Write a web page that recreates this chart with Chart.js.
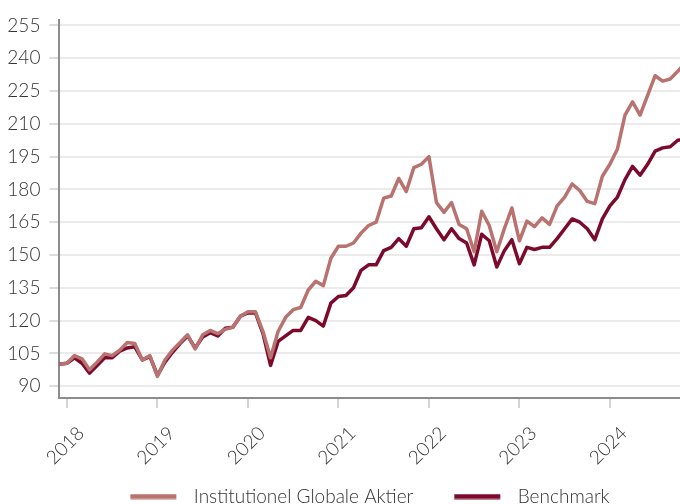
<!DOCTYPE html>
<html>
<head>
<meta charset="utf-8">
<script src="https://cdn.jsdelivr.net/npm/chart.js@4.4.1/dist/chart.umd.min.js"></script>
<style>
  html, body { margin: 0; padding: 0; background: #fff; }
  #wrap { width: 680px; height: 504px; overflow: hidden; position: relative; }
  canvas { display: block; }
</style>
</head>
<body>
<div id="wrap"><canvas id="c" width="720" height="520"></canvas></div>
<script>
// ---- Data (month-end index values, first point = Nov 2017) ----
const seriesNames = ['Institutionel Globale Aktier', 'Benchmark'];
const fundValues = [
  100, 100.5, 104, 102.5, 97.5, 101, 104.8, 104, 106.5, 110, 109.5, 102, 104,
  94.5, 102, 106.5, 110, 113.5, 107, 113.5, 115.5, 114, 116, 117, 122,
  124, 124, 115, 103, 115, 121.5, 125, 126, 134, 138, 136, 148.5,
  154, 154, 155.5, 160, 163.5, 165, 176, 177, 185, 179, 190, 191.5,
  195, 174, 169.5, 174, 164, 162, 151.5, 170, 163.5, 151.5, 162, 171.5,
  156.5, 165.5, 163, 167, 164, 172.5, 176.5, 182.5, 179.5, 174.5, 173.5, 186,
  191.5, 198.5, 214, 220, 214, 223, 232, 229.5, 230.5, 234, 238
];
const benchmarkValues = [
  100, 100.5, 103, 100.5, 96, 99.5, 103, 103, 106, 107.5, 108, 102, 103.5,
  95, 101, 105.5, 109.5, 113, 107.5, 112.5, 114.5, 113, 116.5, 117, 122,
  123.5, 123.5, 114, 99.5, 110.5, 113, 115.5, 115.5, 121.5, 120, 117.5, 128,
  131, 131.5, 135, 143, 145.5, 145.5, 152, 153.5, 157.5, 154, 162, 162.5,
  167.5, 162, 157, 162, 157.5, 155.5, 145.5, 159.5, 156.5, 144.5, 152, 157,
  146, 153.5, 152.5, 153.5, 153.5, 157.5, 162, 166.5, 165, 162, 157, 166.5,
  172.5, 176.5, 184.5, 190.5, 186.5, 191.5, 197.5, 199, 199.5, 202.5, 203
];
// x tick positions (month index of each year boundary) and their labels
const yearTickIndex = [1, 13, 25, 37, 49, 61, 73];
const yearLabels = ['2018', '2019', '2020', '2021', '2022', '2023', '2024'];
// y tick labels
const yTickValues = [90, 105, 120, 135, 150, 165, 180, 195, 210, 225, 240, 255];

const colors = ['#b8726f', '#7c0a2c'];
const FONT = "'Lato', 'Open Sans', sans-serif";
const FS = 19;

function toPoints(arr) { return arr.map((v, i) => ({ x: i, y: v })); }

function legendImage(color) {
  const W = 74, H = 6, a = 20;
  const cv = document.createElement('canvas');
  cv.width = W; cv.height = H;
  const g = cv.getContext('2d');
  g.fillStyle = color;
  g.fillRect(a, 0.5, 46, 5);
  return cv;
}
const legendImgs = colors.map(legendImage);

new Chart(document.getElementById('c'), {
  type: 'line',
  data: {
    datasets: [
      { label: seriesNames[0], data: toPoints(fundValues), borderColor: colors[0], backgroundColor: colors[0],
        borderWidth: 3.5, pointRadius: 0, tension: 0, borderJoinStyle: 'round' },
      { label: seriesNames[1], data: toPoints(benchmarkValues), borderColor: colors[1], backgroundColor: colors[1],
        borderWidth: 3.5, pointRadius: 0, tension: 0, borderJoinStyle: 'round' }
    ]
  },
  options: {
    responsive: false,
    animation: false,
    devicePixelRatio: 1,
    layout: { padding: { top: 15, left: 0, right: 0, bottom: 4 } },
    plugins: {
      tooltip: { enabled: false },
      legend: {
        position: 'bottom',
        labels: {
          usePointStyle: true,
          pointStyleWidth: 74,
          padding: 21,
          color: '#333',
          font: { family: FONT, size: FS, weight: '300' },
          generateLabels(chart) {
            const items = Chart.defaults.plugins.legend.labels.generateLabels(chart);
            items.forEach((it, i) => { it.pointStyle = legendImgs[i]; it.lineWidth = 0; });
            return items;
          }
        }
      }
    },
    scales: {
      x: {
        type: 'linear',
        min: 0,
        max: 87.6,
        afterBuildTicks(s) { s.ticks = yearTickIndex.map(v => ({ value: v })); },
        afterFit(s) { s.height = 68; },
        ticks: {
          autoSkip: false,
          minRotation: 45, maxRotation: 45,
          padding: 14,
          labelOffset: 14,
          color: '#333',
          font: { family: FONT, size: FS, weight: '300' },
          callback(v) { const k = yearTickIndex.indexOf(v); return k >= 0 ? yearLabels[k] : ''; }
        },
        grid: { drawOnChartArea: false, drawTicks: true, tickLength: 10, tickColor: '#d4d4d4', lineWidth: 2 },
        border: { color: '#8c8c8c', width: 2 }
      },
      y: {
        min: 84.6,
        max: 257.3,
        afterBuildTicks(s) { s.ticks = yTickValues.map(v => ({ value: v })); },
        afterFit(s) { s.width = 59.4; },
        ticks: {
          padding: 9,
          color: '#333',
          font: { family: FONT, size: FS, weight: '300' },
          callback(v) { return String(v); }
        },
        grid: { color: '#ebebeb', lineWidth: 2, tickLength: 10, tickColor: '#dcdcdc' },
        border: { color: '#8c8c8c', width: 2 }
      }
    }
  }
});
</script>
</body>
</html>
